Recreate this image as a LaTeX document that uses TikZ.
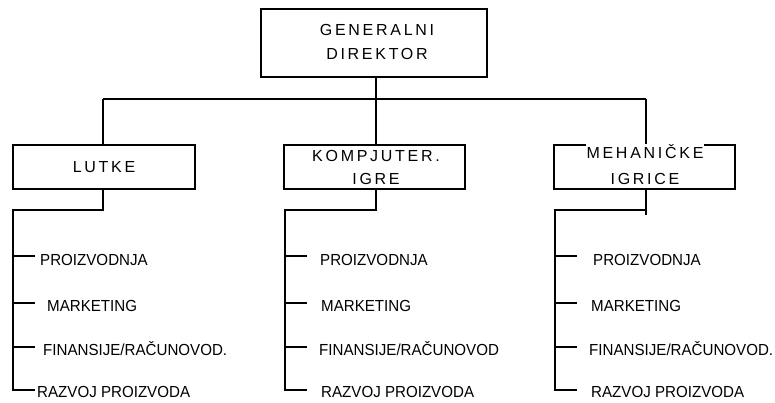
\documentclass[tikz,border=0pt]{standalone}
\usepackage{fontspec}
\setmainfont{Liberation Sans}
\newfontfamily\boxfont[LetterSpace=17]{Liberation Sans}
\newfontfamily\itemfont{Liberation Sans}
\newcommand{\itm}[1]{\scalebox{0.945}[1]{#1}}
\begin{document}
\begin{tikzpicture}[x=1pt,y=-1pt,
  ln/.style={line width=1.2pt,black},
  orgbox/.style={draw,line width=1.2pt,minimum height=44pt,inner sep=0pt},
  boxtext/.style={anchor=base,font=\boxfont\fontsize{16}{18}\selectfont,inner sep=0.5pt},
  itemtext/.style={anchor=base west,font=\itemfont\fontsize{16}{18}\selectfont,inner sep=0pt}]
\useasboundingbox (0,0) rectangle (775,403);
% top box
\node[draw,line width=1.2pt,minimum width=226pt,minimum height=68pt] (gd) at (374,43) {};
\node[boxtext] (gd1) at (377,36) {GENERALNI};
\node[boxtext] (gd2) at (377,60) {DIREKTOR};
% department boxes
\node[orgbox,minimum width=182pt] (lut) at (104,167) {};
\node[boxtext] (lut1) at (104,173) {LUTKE};
\node[orgbox,minimum width=181pt] (kom) at (374.5,167) {};
\node[boxtext] (kom1) at (376,162) {KOMPJUTER.};
\node[boxtext] (kom2) at (376,184.5) {IGRE};
\node[orgbox,minimum width=181pt] (meh) at (644.5,167) {};
\node[boxtext,fill=white,inner ysep=1.5pt] (meh1) at (645,158.5) {MEHANIČKE};
\node[boxtext] (meh2) at (645,185) {IGRICE};
% bus
\coordinate (bl) at (103,99);
\coordinate (bm) at (376,99);
\coordinate (br) at (646,99);
\draw[ln] (bl) -- (br);
\draw[ln] (bl) -- (bl |- lut.north);
\draw[ln] (376,77) -- (bm |- kom.north);
\draw[ln] (br) -- (br |- meh.north);
% sub branches
\foreach \n/\cx/\lx/\tx in {lut/103/13/35, kom/376/285/307, meh/646/555/577}{
  \coordinate (\n-a) at (\cx,210);
  \coordinate (\n-b) at (\lx,210);
  \coordinate (\n-c) at (\lx,390);
  \draw[ln] (\cx,189) -- (\n-a) -- (\n-b) -- (\n-c) -- (\tx,390);
  \foreach \yy in {256,303,347}{
    \draw[ln] (\lx,\yy) -- (\tx,\yy);
  }
}
\draw[ln] (646,205) -- (646,215);
% items col1
\node[itemtext] (l1) at (40,265) {\itm{PROIZVODNJA}};
\node[itemtext] (l2) at (47,311.5) {\itm{MARKETING}};
\node[itemtext] (l3) at (43,355.5) {\itm{FINANSIJE/RAČUNOVOD.}};
\node[itemtext] (l4) at (37,397.5) {\itm{RAZVOJ PROIZVODA}};
% col2
\node[itemtext] (k1) at (320,265) {\itm{PROIZVODNJA}};
\node[itemtext] (k2) at (321,311.5) {\itm{MARKETING}};
\node[itemtext] (k3) at (319,355.5) {\itm{FINANSIJE/RAČUNOVOD}};
\node[itemtext] (k4) at (321,397.5) {\itm{RAZVOJ PROIZVODA}};
% col3
\node[itemtext] (m1) at (593,265) {\itm{PROIZVODNJA}};
\node[itemtext] (m2) at (591,311.5) {\itm{MARKETING}};
\node[itemtext] (m3) at (589,355.5) {\itm{FINANSIJE/RAČUNOVOD.}};
\node[itemtext] (m4) at (591,397.5) {\itm{RAZVOJ PROIZVODA}};
\end{tikzpicture}
\end{document}
